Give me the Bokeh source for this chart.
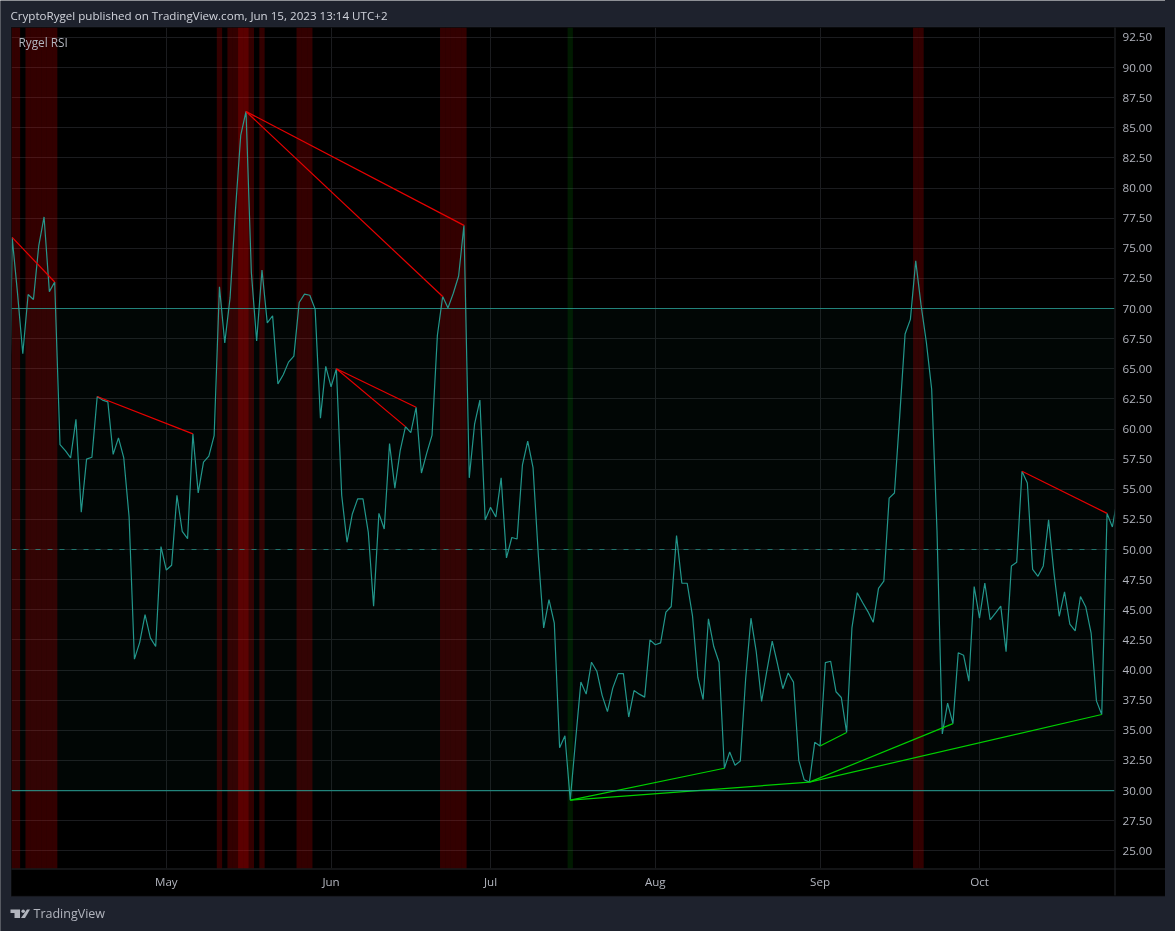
import numpy as np
import pandas as pd
from bokeh.embed import file_html
from bokeh.layouts import column
from bokeh.models import BoxAnnotation, DatetimeTickFormatter, FixedTicker, Label, NumeralTickFormatter, Span
from bokeh.plotting import figure
from bokeh.resources import INLINE

# daily RSI readings, first one sits just left of the pane
first_day = "2022-04-01"
rsi = [
    46.0, 75.9, 71.3, 66.25, 71.16, 70.75, 75.2, 77.6, 71.4, 72.2,
    58.7, 58.2, 57.6, 60.8, 53.1, 57.5, 57.66, 62.7, 62.4, 62.25,
    57.9, 59.27, 57.6, 52.7, 40.9, 42.3, 44.6, 42.67, 41.95, 50.25,
    48.3, 48.7, 54.5, 51.5, 50.9, 59.6, 54.7, 57.25, 57.75, 59.46,
    71.8, 67.15, 70.9, 78.1, 84.36, 86.35, 73.0, 67.3, 73.2, 68.8,
    69.4, 63.75, 64.5, 65.55, 66.05, 70.5, 71.2, 71.1, 69.95, 60.9,
    65.2, 63.5, 65.0, 54.5, 50.6, 52.95, 54.2, 54.2, 51.45, 45.3,
    53.0, 51.7, 58.8, 55.1, 58.2, 60.2, 59.7, 61.8, 56.35, 58.0,
    59.5, 67.76, 71.0, 70.05, 71.27, 72.7, 76.9, 55.95, 60.4, 62.4,
    52.45, 53.5, 52.7, 55.95, 49.3, 51.0, 50.87, 57.0, 59.0, 56.8,
    49.5, 43.5, 45.85, 43.9, 33.55, 34.55, 29.2, 34.15, 39.0, 38.0,
    40.65, 39.9, 37.9, 36.55, 38.5, 39.7, 39.7, 36.1, 38.3, 38.0,
    37.75, 42.5, 42.1, 42.25, 44.8, 45.27, 51.15, 47.2, 47.2, 44.5,
    39.4, 37.55, 44.25, 41.95, 40.65, 31.85, 33.2, 32.1, 32.45, 39.25,
    44.3, 41.5, 37.4, 39.95, 42.4, 40.5, 38.45, 39.75, 39.0, 32.5,
    30.9, 30.7, 34.0, 33.7, 40.62, 40.73, 38.2, 37.72, 34.82, 43.5,
    46.42, 45.6, 44.85, 43.96, 46.78, 47.37, 54.27, 54.69, 61.15, 67.88,
    69.1, 73.95, 70.3, 67.2, 63.3, 51.6, 34.7, 37.25, 35.55, 41.43,
    41.23, 39.07, 46.92, 44.3, 47.22, 44.17, 44.73, 45.3, 41.53, 48.64,
    48.94, 56.5, 55.52, 48.35, 47.78, 48.64, 52.47, 48.1, 44.46, 46.48,
    43.81, 43.25, 46.1, 45.23, 43.07, 37.44, 36.31, 53.0, 51.87, 54.4,
]

# divergences, as (from, to) positions in rsi
bear_pairs = [(1, 9), (17, 35), (45, 82), (45, 86), (62, 75), (62, 77), (191, 207)]
bull_pairs = [(106, 135), (106, 151), (153, 158), (151, 178), (151, 206)]

months = ["2022-05-01", "2022-06-01", "2022-07-01", "2022-08-01", "2022-09-01", "2022-10-01"]
y_ticks = [25 + 2.5 * i for i in range(28)]

title_text = "CryptoRygel published on TradingView.com, Jun 15, 2023 13:14 UTC+2"
study_text = "Rygel RSI"
brand_text = "TradingView"

BG = "#1e222d"
TEXT = "#b2b5be"
TEAL = "#26a69a"
BORDER = "#2a2e39"
W, H = 1176, 931
FONT = "Open Sans"

dates = pd.date_range(first_day, periods=len(rsi), freq="D")
values = np.array(rsi)
DAY_MS = 86400000


def pair_lines(pairs):
    xs = [[dates[a], dates[b]] for a, b in pairs]
    ys = [[rsi[a], rsi[b]] for a, b in pairs]
    return xs, ys


# back sheet: page colour, black panel, header and footer, in pixel coordinates
# (annotations outside the frame get clipped, so its frame is the whole window)
back = figure(frame_width=W, frame_height=H, x_range=(0, W), y_range=(H, 0),
              x_axis_location=None, y_axis_location=None, output_backend="svg", toolbar_location=None,
              min_border_left=0, min_border_right=0, min_border_top=0, min_border_bottom=0,
              background_fill_color=BG, border_fill_color=BG,
              styles={"position": "fixed", "left": "-11px", "top": "0px", "box-shadow": "0 0 0 10px #1e222d"})
back.outline_line_color = None
back.grid.visible = False
back.add_layout(BoxAnnotation(left=10.5, right=1166, top=26.5, bottom=896, fill_color="black", fill_alpha=1,
                              line_color=BORDER, line_width=1.5, level="underlay"))
back.add_layout(BoxAnnotation(left=1114, right=1115, top=27, bottom=895, fill_color="#26282c", fill_alpha=1,
                              line_color=None, level="underlay"))
back.add_layout(BoxAnnotation(left=11, right=1165, top=868, bottom=869, fill_color="#26282c", fill_alpha=1,
                              line_color=None, level="underlay"))


def add_text(fig, text, x, y, size, color=TEXT):
    fig.add_layout(Label(x=x, y=y, text=text, text_color=color, text_font=FONT, text_font_size=size,
                         text_baseline="middle"))


add_text(back, title_text, 10, 14.5, "11.6px", "#d1d4dc")
add_text(back, brand_text, 33, 913, "12.5px")

# TradingView mark
back.patch([10, 19.5, 19.5, 14, 14, 10], [909, 909, 917.5, 917.5, 912.5, 912.5], color=TEXT, line_color=None)
back.patch([20.5, 26.5, 29.5, 24.5], [917.5, 909, 909, 917.5], color=TEXT, line_color=None)
back.circle([22.7], [910.8], radius=1.8, color=TEXT, line_color=None)

x_start = dates[1] - pd.Timedelta(days=0.126)
x_end = dates[1] + pd.Timedelta(days=207.4)

p = figure(width=W, height=H, x_axis_type="datetime", y_axis_location="right",
           x_range=(x_start, x_end), y_range=(23.53, 93.32),
           output_backend="svg", toolbar_location=None,
           min_border_left=11, min_border_right=62, min_border_top=27, min_border_bottom=63,
           background_fill_alpha=0, border_fill_alpha=0,
           styles={"position": "fixed", "left": "0px", "top": "0px"})
p.outline_line_color = None

p.ygrid.grid_line_color = "#1b1c1f"
p.xgrid.grid_line_color = "#1b1c1f"

# background colouring of overbought / oversold days
p.vbar(x=dates[values > 70], width=DAY_MS, bottom=20, top=100, color="#ff0000", alpha=0.2, line_color=None)
p.vbar(x=dates[values > 80], width=DAY_MS, bottom=20, top=100, color="#ff0000", alpha=0.2, line_color=None)
p.vbar(x=dates[values < 30], width=DAY_MS, bottom=20, top=100, color="#00ff00", alpha=0.1, line_color=None)

p.add_layout(BoxAnnotation(bottom=30, top=70, fill_color=TEAL, fill_alpha=0.035, line_color=None, level="underlay"))
p.add_layout(Span(location=70, dimension="width", line_color=TEAL, line_alpha=0.75, line_width=1.2))
p.add_layout(Span(location=30, dimension="width", line_color=TEAL, line_alpha=0.75, line_width=1.2))
p.add_layout(Span(location=50, dimension="width", line_color=TEAL, line_alpha=0.65, line_width=1, line_dash="5 7"))

p.line(dates, rsi, line_color=TEAL, line_width=1.2, line_alpha=0.9)

xs, ys = pair_lines(bear_pairs)
p.multi_line(xs, ys, line_color="#e80000", line_width=1.2)
xs, ys = pair_lines(bull_pairs)
p.multi_line(xs, ys, line_color="#00d000", line_width=1.2)

p.add_layout(Label(x=18, y=41.5, x_units="canvas", y_units="canvas", text=study_text, text_color=TEXT,
                   text_font=FONT, text_font_size="11.8px", text_baseline="middle"))

# axes
p.yaxis.ticker = FixedTicker(ticks=y_ticks)
p.yaxis.formatter = NumeralTickFormatter(format="0.00")
p.yaxis.axis_line_color = None
p.yaxis.major_tick_line_color = None
p.yaxis.minor_tick_line_color = None
p.yaxis.major_tick_out = 0
p.yaxis.major_label_standoff = 8
p.yaxis.major_label_text_color = TEXT
p.yaxis.major_label_text_font = FONT
p.yaxis.major_label_text_font_size = "11.6px"

p.xaxis.ticker = FixedTicker(ticks=[pd.Timestamp(m).value / 1e6 for m in months])
p.xaxis.formatter = DatetimeTickFormatter(hours="%b", days="%b", months="%b", years="%b", context=None)
p.xaxis.axis_line_color = None
p.xaxis.major_tick_line_color = None
p.xaxis.minor_tick_line_color = None
p.xaxis.major_tick_out = 0
p.xaxis.major_label_standoff = 5
p.xaxis.major_label_text_color = TEXT
p.xaxis.major_label_text_font = FONT
p.xaxis.major_label_text_font_size = "11.6px"

page = column(back, p)
open("out.html", "w").write(file_html(page, INLINE))
